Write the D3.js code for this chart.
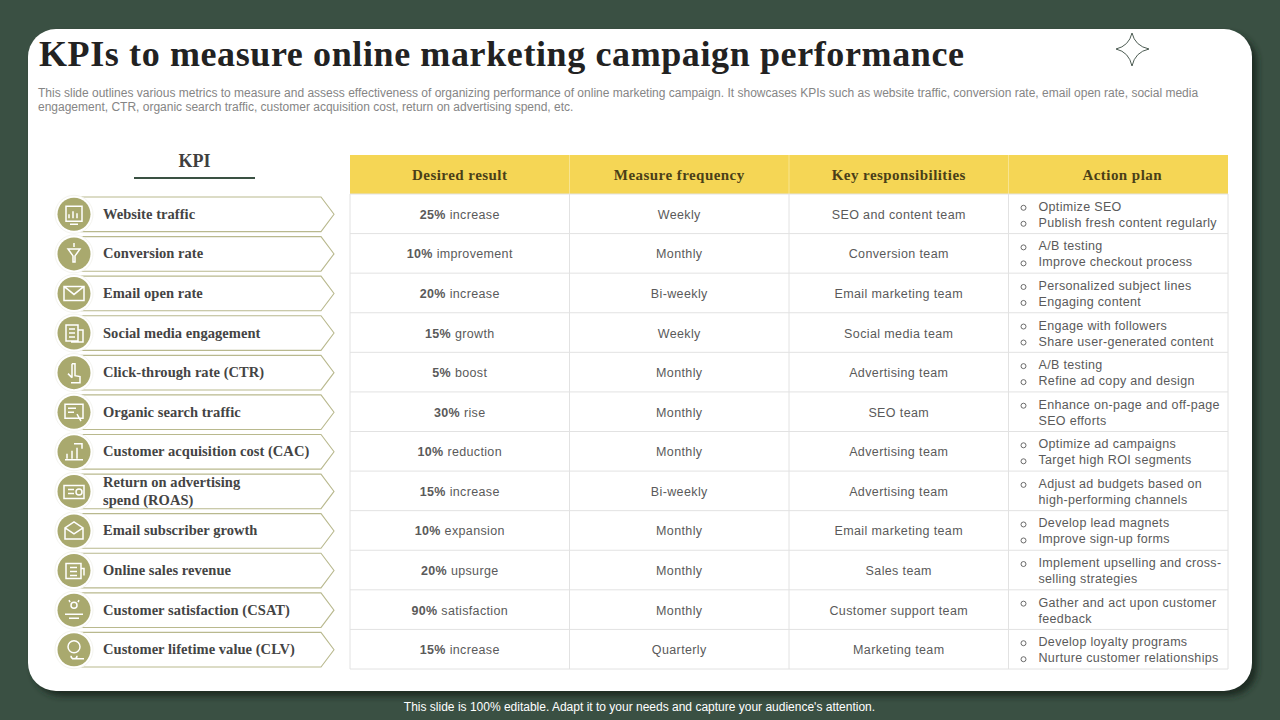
<!DOCTYPE html>
<html>
<head>
<meta charset="utf-8">
<title>KPIs to measure online marketing campaign performance</title>
<script src="https://cdn.jsdelivr.net/npm/d3@7"></script>
<style>
  html, body { margin: 0; padding: 0; background: #3a5043; overflow: hidden; }
  text { font-family: "Liberation Sans", Arial, sans-serif; }
  .serif { font-family: "Liberation Serif", "Times New Roman", serif; font-weight: bold; }
</style>
</head>
<body>
<svg id="chart" width="1280" height="720" style="display:block"></svg>
<script>
const titleText = 'KPIs to measure online marketing campaign performance';
const subtitleLines = [
  'This slide outlines various metrics to measure and assess effectiveness of organizing performance of online marketing campaign. It showcases KPIs such as website traffic, conversion rate, email open rate, social media',
  'engagement, CTR, organic search traffic, customer acquisition cost, return on advertising spend, etc.'
];
const footerText = "This slide is 100% editable. Adapt it to your needs and capture your audience's attention.";

const columns = ['Desired result', 'Measure frequency', 'Key responsibilities', 'Action plan'];
const kpis = [
  ['Website traffic'], ['Conversion rate'], ['Email open rate'], ['Social media engagement'],
  ['Click-through rate (CTR)'], ['Organic search traffic'], ['Customer acquisition cost (CAC)'],
  ['Return on advertising', 'spend (ROAS)'], ['Email subscriber growth'], ['Online sales revenue'],
  ['Customer satisfaction (CSAT)'], ['Customer lifetime value (CLV)']
];
const resultValues = ['25%', '10%', '20%', '15%', '5%', '30%', '10%', '15%', '10%', '20%', '90%', '15%'];
const resultWords = ['increase', 'improvement', 'increase', 'growth', 'boost', 'rise', 'reduction', 'increase', 'expansion', 'upsurge', 'satisfaction', 'increase'];
const frequencies = ['Weekly', 'Monthly', 'Bi-weekly', 'Weekly', 'Monthly', 'Monthly', 'Monthly', 'Bi-weekly', 'Monthly', 'Monthly', 'Monthly', 'Quarterly'];
const teams = ['SEO and content team', 'Conversion team', 'Email marketing team', 'Social media team', 'Advertising team', 'SEO team', 'Advertising team', 'Advertising team', 'Email marketing team', 'Sales team', 'Customer support team', 'Marketing team'];
// one entry per line; second element says if the line starts with a bullet
const actions = [
  [['Optimize SEO', 1], ['Publish fresh content regularly', 1]],
  [['A/B testing', 1], ['Improve checkout process', 1]],
  [['Personalized subject lines', 1], ['Engaging content', 1]],
  [['Engage with followers', 1], ['Share user-generated content', 1]],
  [['A/B testing', 1], ['Refine ad copy and design', 1]],
  [['Enhance on-page and off-page', 1], ['SEO efforts', 0]],
  [['Optimize ad campaigns', 1], ['Target high ROI segments', 1]],
  [['Adjust ad budgets based on', 1], ['high-performing channels', 0]],
  [['Develop lead magnets', 1], ['Improve sign-up forms', 1]],
  [['Implement upselling and cross-', 1], ['selling strategies', 0]],
  [['Gather and act upon customer', 1], ['feedback', 0]],
  [['Develop loyalty programs', 1], ['Nurture customer relationships', 1]]
];

const svg = d3.select('#chart');
const defs = svg.append('defs');
const blur = defs.append('filter').attr('id', 'cardShadow')
  .attr('x', '-5%').attr('y', '-5%').attr('width', '110%').attr('height', '110%');
blur.append('feGaussianBlur').attr('stdDeviation', 3);

// card
svg.append('rect').attr('x', 33).attr('y', 34).attr('width', 1224).attr('height', 662)
  .attr('rx', 28).attr('fill', '#1f2b24').attr('filter', 'url(#cardShadow)');
svg.append('rect').attr('x', 28).attr('y', 29).attr('width', 1224).attr('height', 662)
  .attr('rx', 28).attr('fill', '#ffffff');

// title block
svg.append('text').attr('class', 'serif').attr('x', 39).attr('y', 66)
  .attr('font-size', 36).attr('letter-spacing', 0.61).attr('fill', '#222222').text(titleText);
svg.selectAll('.sub').data(subtitleLines).join('text').attr('class', 'sub')
  .attr('x', 38).attr('y', (d, i) => 97 + i * 14)
  .attr('font-size', 12).attr('fill', '#858585').text(d => d);

// four pointed star
svg.append('path')
  .attr('d', 'M1132 33 Q1135 46 1149 49 Q1135 52 1132 66 Q1129 52 1116 49 Q1129 46 1132 33 Z')
  .attr('fill', 'none').attr('stroke', '#4d5c53').attr('stroke-width', 1);

// scales
const xCol = d3.scaleBand().domain(columns).range([350, 1228]);
const yRow = d3.scaleBand().domain(d3.range(kpis.length)).range([194, 669]);
const headerTop = 155;
const lineColor = '#e2e2e2';

// table header
svg.append('rect').attr('x', 350).attr('y', headerTop).attr('width', 878).attr('height', 194 - headerTop)
  .attr('fill', '#f5d655');
svg.selectAll('.headSep').data(columns.slice(1)).join('line').attr('class', 'headSep')
  .attr('x1', d => xCol(d)).attr('x2', d => xCol(d)).attr('y1', headerTop).attr('y2', 194)
  .attr('stroke', '#f8e490').attr('stroke-width', 1);
// the last heading sits a little right of its column centre
svg.selectAll('.headText').data(columns).join('text').attr('class', 'headText serif')
  .attr('x', (d, i) => xCol(d) + xCol.bandwidth() / 2 + (i === 3 ? 4 : 0)).attr('y', 180)
  .attr('text-anchor', 'middle').attr('font-size', 15).attr('letter-spacing', 0.45)
  .attr('fill', '#4a3f18').text(d => d);

// grid
svg.selectAll('.hLine').data(d3.range(kpis.length + 1)).join('line').attr('class', 'hLine')
  .attr('x1', 350).attr('x2', 1228)
  .attr('y1', d => 194 + d * yRow.step()).attr('y2', d => 194 + d * yRow.step())
  .attr('stroke', lineColor).attr('stroke-width', 1);
svg.selectAll('.vLine').data([...columns.map(d => xCol(d)), 1228]).join('line').attr('class', 'vLine')
  .attr('x1', d => d).attr('x2', d => d).attr('y1', 194).attr('y2', 669)
  .attr('stroke', lineColor).attr('stroke-width', 1);

// table body
const bodyColor = '#5a5a5a';
const cellY = i => yRow(i) + yRow.bandwidth() / 2 + 5;
const desired = svg.selectAll('.desired').data(resultValues).join('text').attr('class', 'desired')
  .attr('x', xCol(columns[0]) + xCol.bandwidth() / 2).attr('y', (d, i) => cellY(i))
  .attr('text-anchor', 'middle').attr('font-size', 12.5).attr('letter-spacing', 0.35).attr('fill', bodyColor);
desired.append('tspan').attr('font-weight', 'bold').text(d => d);
desired.append('tspan').text((d, i) => ' ' + resultWords[i]);

[[frequencies, columns[1]], [teams, columns[2]]].forEach(([values, col]) => {
  svg.selectAll('.c' + columns.indexOf(col)).data(values).join('text').attr('class', 'c' + columns.indexOf(col))
    .attr('x', xCol(col) + xCol.bandwidth() / 2).attr('y', (d, i) => cellY(i))
    .attr('text-anchor', 'middle').attr('font-size', 12.5).attr('letter-spacing', 0.38)
    .attr('fill', bodyColor).text(d => d);
});

const actionRows = svg.selectAll('.actionRow').data(actions).join('g').attr('class', 'actionRow')
  .attr('transform', (d, i) => `translate(${xCol(columns[3])},${yRow(i) + yRow.bandwidth() / 2})`);
actionRows.selectAll('.line').data(d => d).join('text').attr('class', 'line')
  .attr('x', 30).attr('y', (d, i) => i * 16 - 3)
  .attr('font-size', 12.5).attr('letter-spacing', 0.33).attr('fill', bodyColor).text(d => d[0]);
actionRows.selectAll('.bullet').data(d => d.filter(l => l[1]).map(l => d.indexOf(l))).join('circle').attr('class', 'bullet')
  .attr('cx', 15).attr('cy', d => d * 16 - 6).attr('r', 2.5)
  .attr('fill', 'none').attr('stroke', bodyColor).attr('stroke-width', 0.9);

// KPI column
svg.append('text').attr('class', 'serif').attr('x', 194.5).attr('y', 167)
  .attr('text-anchor', 'middle').attr('font-size', 18).attr('fill', '#3f3f3f').text('KPI');
svg.append('line').attr('x1', 134).attr('x2', 255).attr('y1', 178).attr('y2', 178)
  .attr('stroke', '#3a5143').attr('stroke-width', 2);

const olive = '#a9a96e';
const kpiRows = svg.selectAll('.kpiRow').data(kpis).join('g').attr('class', 'kpiRow')
  .attr('transform', (d, i) => `translate(0,${yRow(i) + yRow.bandwidth() / 2 + 0.5})`);
kpiRows.append('path').attr('d', 'M80 -17.3 L321 -17.3 L334 0 L321 17.3 L80 17.3')
  .attr('fill', '#ffffff').attr('stroke', '#b9b98e').attr('stroke-width', 1.1);
kpiRows.append('circle').attr('cx', 74).attr('cy', 0).attr('r', 19)
  .attr('fill', '#ffffff').attr('stroke', '#f4f4ef').attr('stroke-width', 1);
kpiRows.append('circle').attr('cx', 74).attr('cy', 0).attr('r', 16.5).attr('fill', olive);
kpiRows.selectAll('.kpiLine').data(d => d).join('text').attr('class', 'kpiLine serif')
  .attr('x', 103).attr('y', (d, i, n) => (n.length === 1 ? 4.5 : i * 18 - 4.5))
  .attr('font-size', 14.5).attr('letter-spacing', 0.05).attr('fill', '#444444').text(d => d);

// small white pictograms inside the circles
const icons = [
  'M66 -8 H82 V7 H66 Z M69 4 V0 M73 4 V-3 M77 4 V-1 M70 10 H78',
  'M68 -5 H80 L75 2 V8 L73 8 V2 Z M74 -11 V-7',
  'M64 -7 H84 V7 H64 Z M64 -7 L74 1 L84 -7',
  'M66 -8 H78 V8 H66 Z M69 -4 H75 M69 0 H75 M69 4 H75 M78 -3 H83 V9 H71',
  'M72 -9 V5 M72 5 L68 1 M72 -9 H75 V3 L80 4 V10 H71',
  'M65 -8 H83 V6 H65 Z M68 -4 H76 M68 0 H74 M77 2 L81 9',
  'M65 8 H83 M67 7 V2 M72 7 V-1 M77 7 V-4 M74 -8 H82 V-3',
  'M64 -6 H84 V7 H64 Z M68 -2 H74 M68 2 H74 M79 0.5 m-3 0 a3 3 0 1 0 6 0 a3 3 0 1 0 -6 0',
  'M65 -3 L74 -9 L83 -3 V8 H65 Z M65 -3 L74 3 L83 -3',
  'M66 -7 H81 V8 H66 Z M70 -3 H77 M70 1 H77 M70 5 H77 M81 -2 H84 V5',
  'M74 -5 m-3 0 a3 3 0 1 0 6 0 a3 3 0 1 0 -6 0 M65 4 H83 M69 -10 L70 -8 M79 -10 L78 -8 M69 8 H79',
  'M74 -3 m-6 0 a6 6 0 1 0 12 0 a6 6 0 1 0 -12 0 M74 6 m-3 0 a3 3 0 1 0 6 0 M72 9 H84'
];
kpiRows.append('path').attr('d', (d, i) => icons[i])
  .attr('fill', 'none').attr('stroke', '#ffffff').attr('stroke-width', 1.5);

// footer
svg.append('text').attr('x', 639.5).attr('y', 711).attr('text-anchor', 'middle')
  .attr('font-size', 12).attr('fill', '#ffffff').text(footerText);
</script>
</body>
</html>
